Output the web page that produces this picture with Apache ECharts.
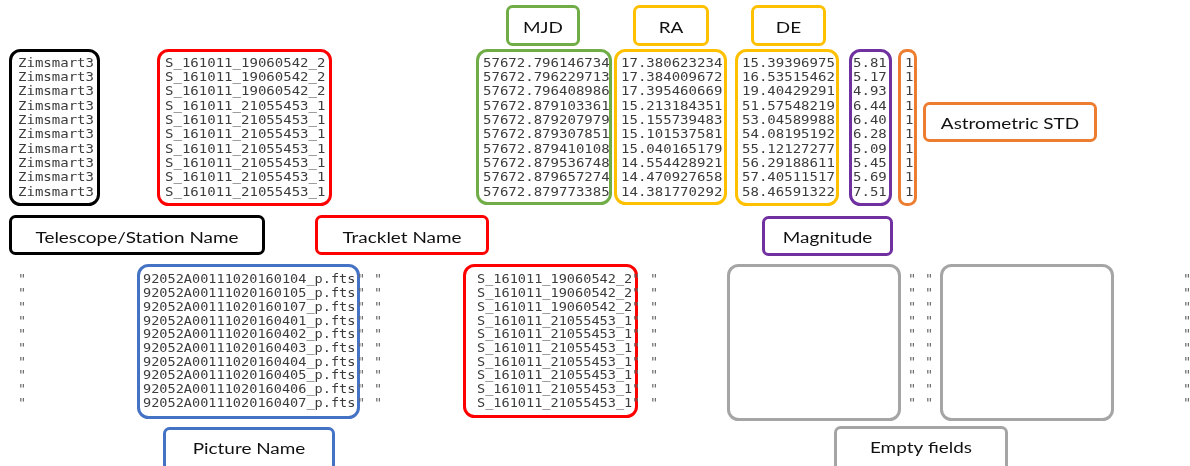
<!DOCTYPE html>
<html><head><meta charset="utf-8">
<script src="https://cdn.jsdelivr.net/npm/echarts@6/dist/echarts.min.js"></script>
<style>html,body{margin:0;padding:0;background:#fff}#c{width:1190px;height:466px}</style>
</head><body><div id="c"></div>
<script>
// ---------------- DATA ----------------
const stationNames = ['Zimsmart3','Zimsmart3','Zimsmart3','Zimsmart3','Zimsmart3','Zimsmart3','Zimsmart3','Zimsmart3','Zimsmart3','Zimsmart3'];
const trackletNames = ['S_161011_19060542_2','S_161011_19060542_2','S_161011_19060542_2','S_161011_21055453_1','S_161011_21055453_1','S_161011_21055453_1','S_161011_21055453_1','S_161011_21055453_1','S_161011_21055453_1','S_161011_21055453_1'];
const mjdValues = ['57672.796146734','57672.796229713','57672.796408986','57672.879103361','57672.879207979','57672.879307851','57672.879410108','57672.879536748','57672.879657274','57672.879773385'];
const raValues = ['17.380623234','17.384009672','17.395460669','15.213184351','15.155739483','15.101537581','15.040165179','14.554428921','14.470927658','14.381770292'];
const deValues = ['15.39396975','16.53515462','19.40429291','51.57548219','53.04589988','54.08195192','55.12127277','56.29188611','57.40511517','58.46591322'];
const magnitudes = ['5.81','5.17','4.93','6.44','6.40','6.28','5.09','5.45','5.69','7.51'];
const astrometricStd = ['1','1','1','1','1','1','1','1','1','1'];
const pictureNames = ['92052A00111020160104_p.fts','92052A00111020160105_p.fts','92052A00111020160107_p.fts','92052A00111020160401_p.fts','92052A00111020160402_p.fts','92052A00111020160403_p.fts','92052A00111020160404_p.fts','92052A00111020160405_p.fts','92052A00111020160406_p.fts','92052A00111020160407_p.fts'];
const trackletNames2 = ['S_161011_19060542_2','S_161011_19060542_2','S_161011_19060542_2','S_161011_21055453_1','S_161011_21055453_1','S_161011_21055453_1','S_161011_21055453_1','S_161011_21055453_1','S_161011_21055453_1','S_161011_21055453_1'];
const quoteMarks = ['"','"','"','"','"','"','"','"','"','"'];
const fieldLabels = ['MJD','RA','DE','Astrometric STD','Telescope/Station Name','Tracklet Name','Magnitude','Picture Name','Empty fields'];

// ---------------- LAYOUT / STYLE ----------------
const W = 1190, H = 466;
const MONO = '"DejaVu Sans Mono", monospace';
const SANS = 'Lato, "Open Sans", sans-serif';
const TEXT = '#3c3c3c';
const QUOTE = '#666666';
const STRETCH = 1.2; // reference is horizontally stretched
const C = {black:'#000000', red:'#ff0000', green:'#70ad47', gold:'#ffc000', purple:'#7030a0', orange:'#ed7d31', blue:'#4472c4', gray:'#a5a5a5'};
const TOP = {y0: 63.5, step: 14.33, size: 11.7, scale: 1.2};
const BOT = {y0: 280.5, step: 13.7, size: 11.5, scale: 1.18};

const columns = [
  {values: stationNames, x: 18, block: TOP},
  {values: trackletNames, x: 165, block: TOP},
  {values: mjdValues, x: 483, block: TOP},
  {values: raValues, x: 621, block: TOP},
  {values: deValues, x: 742, block: TOP},
  {values: magnitudes, x: 853, block: TOP},
  {values: astrometricStd, x: 905, block: TOP},
  {values: quoteMarks, x: 18, block: BOT, q: true},
  {values: pictureNames, x: 143, block: BOT},
  {values: quoteMarks, x: 357, block: BOT, q: true},
  {values: quoteMarks, x: 374, block: BOT, q: true},
  {values: trackletNames2, x: 477, block: BOT},
  {values: quoteMarks, x: 632, block: BOT, q: true},
  {values: quoteMarks, x: 650, block: BOT, q: true},
  {values: quoteMarks, x: 908, block: BOT, q: true},
  {values: quoteMarks, x: 925, block: BOT, q: true},
  {values: quoteMarks, x: 1183, block: BOT, q: true}
];

const dataBoxes = [
  {x0:9, y0:49, x1:100, y1:206, c:'black'},
  {x0:157, y0:49, x1:332, y1:206, c:'red'},
  {x0:476, y0:49, x1:612, y1:205, c:'green'},
  {x0:614, y0:49, x1:727, y1:205, c:'gold'},
  {x0:735, y0:49, x1:839, y1:206, c:'gold'},
  {x0:849, y0:49, x1:892, y1:206, c:'purple'},
  {x0:898, y0:49, x1:917, y1:206, c:'orange'},
  {x0:137, y0:264, x1:360, y1:419, c:'blue'},
  {x0:463, y0:264, x1:638, y1:418, c:'red'},
  {x0:727, y0:264, x1:901, y1:421, c:'gray'},
  {x0:940, y0:264, x1:1114, y1:421, c:'gray'}
];
// label boxes, in order of fieldLabels
const labelBoxes = [
  {x0:506, y0:5, x1:580, y1:46, c:'green'},
  {x0:633, y0:5, x1:709, y1:46, c:'gold'},
  {x0:751, y0:5, x1:826, y1:46, c:'gold'},
  {x0:923, y0:102, x1:1097, y1:142, c:'orange'},
  {x0:9, y0:215, x1:265, y1:255, c:'black'},
  {x0:315, y0:215, x1:489, y1:255, c:'red'},
  {x0:762, y0:216, x1:893, y1:256, c:'purple'},
  {x0:163, y0:427, x1:335, y1:472, c:'blue'},
  {x0:834, y0:426, x1:1008, y1:472, c:'gray'}
];
const LABEL_TEXT_Y = [28, 28, 28, 124, 238, 238, 238, 449, 448];

// ---------------- CHART ----------------
const chart = echarts.init(document.getElementById('c'), null, {renderer: 'canvas'});

function rectFrom(api, b, lw) {
  const p0 = api.coord([b.x0, b.y0]);
  const p1 = api.coord([b.x1, b.y1]);
  const h = lw / 2;
  return {x: p0[0] + h, y: p0[1] + h, width: p1[0] - p0[0] - lw, height: p1[1] - p0[1] - lw};
}

const series = [];

series.push({
  type: 'custom', coordinateSystem: 'cartesian2d', silent: true, clip: false,
  data: dataBoxes.map((b, i) => [i]),
  renderItem: (params, api) => {
    const b = dataBoxes[params.dataIndex];
    const lw = 3;
    const s = rectFrom(api, b, lw);
    s.r = Math.min(10, s.width / 2 - 1);
    return {type: 'rect', shape: s, style: {fill: null, stroke: C[b.c], lineWidth: lw}};
  }
});

series.push({
  type: 'custom', coordinateSystem: 'cartesian2d', silent: true, clip: false,
  data: fieldLabels.map((t, i) => [i]),
  renderItem: (params, api) => {
    const i = params.dataIndex;
    const b = labelBoxes[i];
    const lw = 3;
    const s = rectFrom(api, b, lw);
    s.r = 5;
    const c = api.coord([(b.x0 + b.x1) / 2, LABEL_TEXT_Y[i]]);
    return {type: 'group', children: [
      {type: 'rect', shape: s, style: {fill: '#fff', stroke: C[b.c], lineWidth: lw}},
      {type: 'text', x: c[0], y: c[1], scaleX: 1.22, style: {text: fieldLabels[i], fill: '#111', font: '15.5px ' + SANS, align: 'center', verticalAlign: 'middle'}}
    ]};
  }
});

columns.forEach(col => {
  series.push({
    type: 'custom', coordinateSystem: 'cartesian2d', silent: true, clip: false,
    data: col.values.map((v, i) => [col.x, col.block.y0 + i * col.block.step]),
    renderItem: (params, api) => {
      const p = api.coord([api.value(0), api.value(1)]);
      return {type: 'text', x: p[0], y: p[1], scaleX: col.block.scale, style: {text: col.values[params.dataIndex], fill: col.q ? QUOTE : TEXT, font: col.block.size + 'px ' + MONO, align: 'left', verticalAlign: 'middle'}};
    }
  });
});

chart.setOption({
  animation: false,
  backgroundColor: '#ffffff',
  grid: {left: 0, right: 0, top: 0, bottom: 0},
  xAxis: {type: 'value', min: 0, max: W, show: false},
  yAxis: {type: 'value', min: 0, max: H, inverse: true, show: false},
  series: series
});
</script></body></html>
